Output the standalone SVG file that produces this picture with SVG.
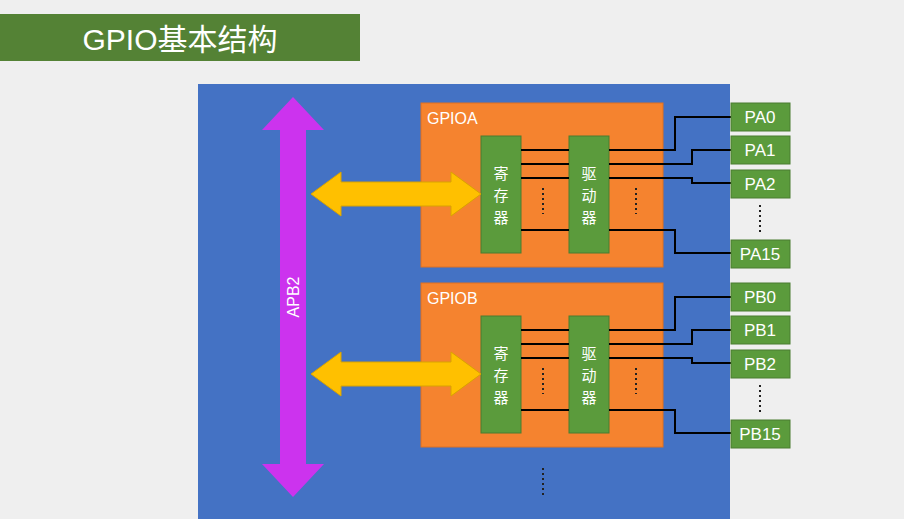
<svg xmlns="http://www.w3.org/2000/svg" width="904" height="519" viewBox="0 0 904 519">
<defs>
<style>
.g{fill:#5b9b3c;stroke:#4a7d30;stroke-width:1}
.o{fill:#f5832f;stroke:#e07020;stroke-width:1}
.w{fill:none;stroke:#000;stroke-width:2}
.d{fill:none;stroke:#222;stroke-width:2;stroke-dasharray:2 3}
text{font-family:"Liberation Sans","Noto Sans CJK SC",sans-serif;fill:#fff}
.p{font-size:17px;text-anchor:middle}
.c{font-size:15px;text-anchor:middle;font-family:"Noto Sans CJK SC",sans-serif}
</style>
<g id="gp">
<rect class="o" x="421" y="103" width="242" height="164"/>
<rect class="g" x="481" y="136" width="40" height="117"/>
<rect class="g" x="569" y="136" width="40" height="117"/>
<polygon fill="#ffc000" stroke="#d9a300" points="311,194 341,172 341,182 451,182 451,172 481,194 451,216 451,206 341,206 341,216"/>
<polyline class="d" points="543,188 543,214"/>
<polyline class="d" points="636,188 636,214"/>
</g>
</defs>
<rect width="904" height="519" fill="#efefef"/>
<g id="title"><rect x="0" y="14" width="360" height="47" fill="#548235"/><text x="180" y="50" font-size="30" text-anchor="middle">GPIO基本结构</text></g>
<g id="chip"><rect x="198" y="84" width="532" height="435" fill="#4472c4"/></g>
<g id="apb2"><polygon fill="#cc33ee" points="293,97 324,130 306,130 306,464 324,464 293,497 262,464 280,464 280,130 262,130"/><text x="0" y="0" font-size="16" text-anchor="middle" transform="translate(299,297) rotate(-90)">APB2</text></g>
<g id="gpioa"><use href="#gp"/><text x="427" y="124" font-size="16">GPIOA</text>
<text class="c" x="501" y="179">寄</text><text class="c" x="501" y="201">存</text><text class="c" x="501" y="223">器</text>
<text class="c" x="589" y="179">驱</text><text class="c" x="589" y="201">动</text><text class="c" x="589" y="223">器</text></g>
<g id="gpiob"><use href="#gp" y="180"/><text x="427" y="304" font-size="16">GPIOB</text>
<text class="c" x="501" y="359">寄</text><text class="c" x="501" y="381">存</text><text class="c" x="501" y="403">器</text>
<text class="c" x="589" y="359">驱</text><text class="c" x="589" y="381">动</text><text class="c" x="589" y="403">器</text></g>
<g id="connectors">
<path class="w" d="M521 150H569M521 164H569M521 178H569M521 230H569M609 150H675V117H731M609 164H692V150H731M609 178H692V183H731M609 230H675V253H731"/>
<path class="w" d="M521 330H569M521 344H569M521 358H569M521 410H569M609 330H675V297H731M609 344H692V330H731M609 358H692V363H731M609 410H675V433H731"/>
</g>
<g id="pins">
<rect class="g" x="731" y="103" width="59" height="28"/><text class="p" x="760" y="123">PA0</text>
<rect class="g" x="731" y="136" width="59" height="28"/><text class="p" x="760" y="156">PA1</text>
<rect class="g" x="731" y="170" width="59" height="28"/><text class="p" x="760" y="190">PA2</text>
<polyline class="d" points="760,205 760,232"/>
<rect class="g" x="731" y="240" width="59" height="28"/><text class="p" x="760" y="260">PA15</text>
<rect class="g" x="731" y="283" width="59" height="28"/><text class="p" x="760" y="303">PB0</text>
<rect class="g" x="731" y="316" width="59" height="28"/><text class="p" x="760" y="336">PB1</text>
<rect class="g" x="731" y="350" width="59" height="28"/><text class="p" x="760" y="370">PB2</text>
<polyline class="d" points="760,385 760,412"/>
<rect class="g" x="731" y="420" width="59" height="28"/><text class="p" x="760" y="440">PB15</text>
<polyline class="d" points="543,468 543,498"/>
</g>
</svg>
